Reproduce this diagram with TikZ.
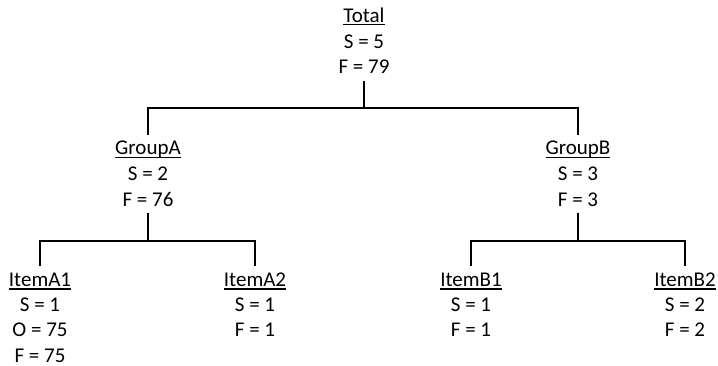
\documentclass[tikz,border=0pt]{standalone}
\usepackage{fontspec}
\setmainfont{Carlito}
\newcommand{\myul}[1]{\leavevmode\setbox0\hbox{#1}\rlap{\rule[-3pt]{\wd0}{1.3pt}}\box0}
\newcommand{\toprule}{\rule{0pt}{20pt}}
\newcommand{\botrule}{\rule[-7pt]{0pt}{7pt}}
\begin{document}
\begin{tikzpicture}[x=1pt,y=-1pt,
  box/.style={inner sep=0pt,outer sep=0pt,anchor=north,align=center,
    font=\fontsize{21}{25.7}\selectfont},
  itembox/.style={box,font=\fontsize{21}{25.2}\selectfont},
  conn/.style={line width=2pt,line join=miter,draw=black}]
\useasboundingbox (0,0) rectangle (718,366);
\node[box] (total) at (364,2.5) {\toprule\myul{Total}\\S = 5\\F = 79\botrule};
\node[box] (groupA) at (148,135) {\toprule\myul{GroupA}\\S = 2\\F = 76\botrule};
\node[box] (groupB) at (578,135) {\toprule\myul{GroupB}\\S = 3\\F = 3\botrule};
\node[itembox] (itemA1) at (40,266.5) {\toprule\myul{ItemA1}\\S = 1\\O = 75\\F = 75};
\node[itembox] (itemA2) at (255,266.5) {\toprule\myul{ItemA2}\\S = 1\\F = 1};
\node[itembox] (itemB1) at (471,266.5) {\toprule\myul{ItemB1}\\S = 1\\F = 1};
\node[itembox] (itemB2) at (685,266.5) {\toprule\myul{ItemB2}\\S = 2\\F = 2};
\coordinate (barT) at (364,108);
\coordinate (barA) at (148,241);
\coordinate (barB) at (578,241);
\draw[conn] (total.south) -- (barT);
\draw[conn] (groupA.north) |- (barT) -| (groupB.north);
\draw[conn] (groupA.south) -- (barA);
\draw[conn] (itemA1.north) |- (barA) -| (itemA2.north);
\draw[conn] (groupB.south) -- (barB);
\draw[conn] (itemB1.north) |- (barB) -| (itemB2.north);
\end{tikzpicture}
\end{document}
